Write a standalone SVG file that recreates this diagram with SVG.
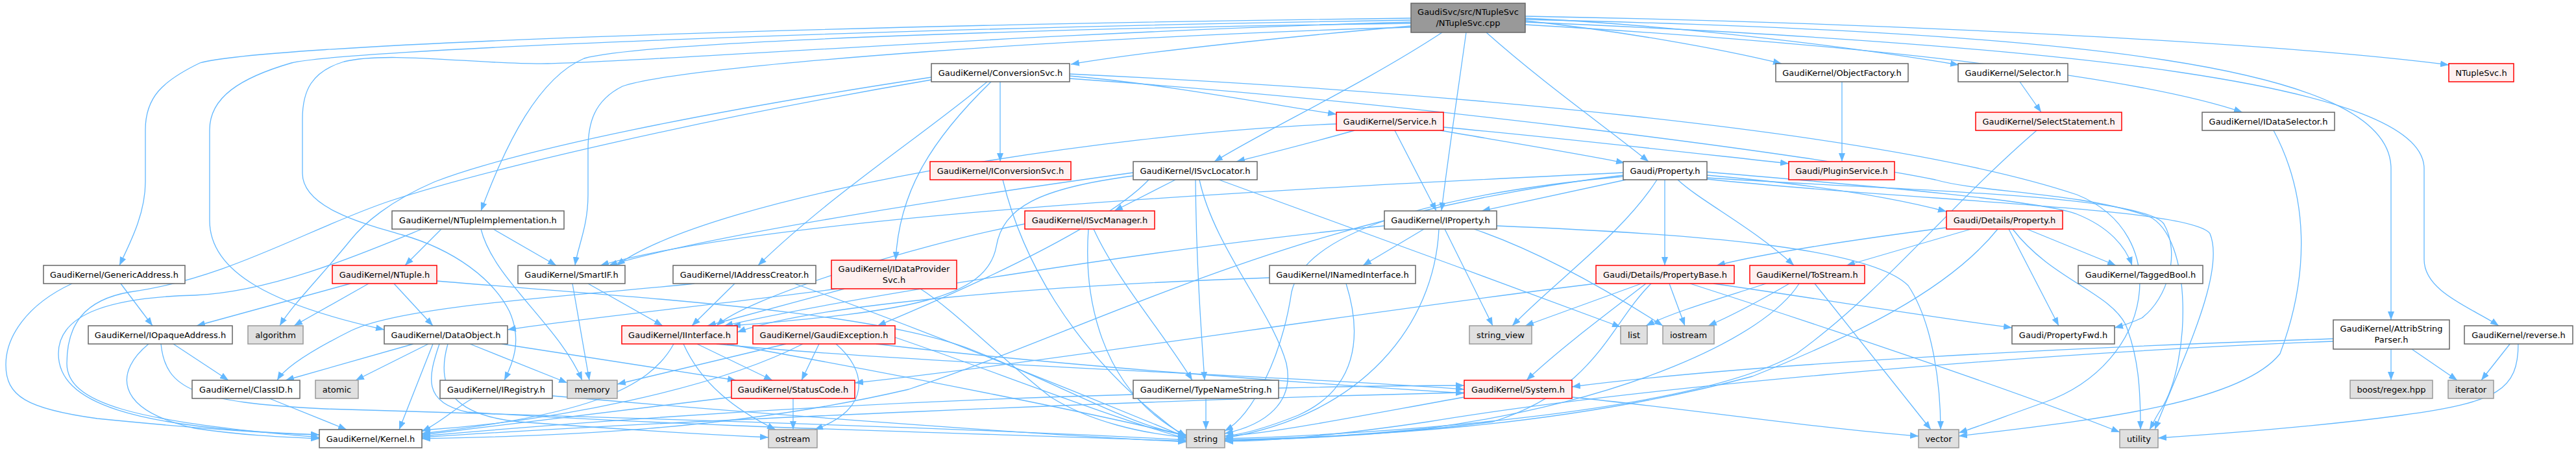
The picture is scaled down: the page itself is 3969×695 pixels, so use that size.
<svg xmlns="http://www.w3.org/2000/svg" width="3969" height="695" viewBox="0 0 3969 695">
<style>
.e{fill:none;stroke:#63b8ff;stroke-width:1.3;marker-end:url(#ah)}
.n rect{fill:#ffffff;stroke:#666666;stroke-width:1.5}
.r rect{fill:#fff0f0;stroke:#ff0000;stroke-width:1.5}
.g rect{fill:#e0e0e0;stroke:#999999;stroke-width:1.5}
.root rect{fill:#999999;stroke:#666666;stroke-width:1.5}
text{font-family:"DejaVu Sans","Liberation Sans",sans-serif;font-size:13px;text-anchor:middle;fill:#000000}
</style>
<defs>
<marker id="ah" markerWidth="13" markerHeight="10" refX="13" refY="5" orient="auto" markerUnits="userSpaceOnUse"><path d="M0,0 L13,5 L0,10 z" fill="#63b8ff"/></marker>
</defs>
<rect x="0" y="0" width="3969" height="695" fill="#ffffff"/>
<g id="edges">
<path class="e" d="M2174,40 C1950,60 1750,82 1650,99"/>
<path class="e" d="M2350,32 C2500,48 2650,75 2745,98"/>
<path class="e" d="M2350,28 C2600,40 2870,75 3018,100"/>
<path class="e" d="M2350,25 C2900,35 3500,65 3773,100"/>
<path class="e" d="M2350,38 C2900,70 3300,120 3455,173"/>
<path class="e" d="M2350,30 C3200,50 3684,100 3684,260 L3684,493"/>
<path class="e" d="M2350,34 C3200,70 3735,130 3735,260 L3735,400 C3735,450 3810,475 3850,502"/>
<path class="e" d="M2174,28 C1200,40 400,70 308,97 C250,125 224,150 224,200 L224,280 C224,330 200,375 184,409"/>
<path class="e" d="M2174,31 C1300,45 520,78 449,97 C370,120 323,150 323,200 L323,340 C323,420 420,470 592,508"/>
<path class="e" d="M2174,34 C1600,50 1000,95 844,98 C740,100 600,78 530,95 C480,110 466,140 466,183 L466,267 C466,320 560,345 620,362 C700,385 760,430 785,480 C805,525 790,560 777,586"/>
<path class="e" d="M2174,36 C1700,42 1000,62 900,90 C830,120 780,220 741,325"/>
<path class="e" d="M2174,42 C1700,55 1050,100 959,133 C915,155 906,190 906,230 L906,300 C906,350 890,380 886,409"/>
<path class="e" d="M2222,50 C2100,130 1950,200 1871,249"/>
<path class="e" d="M2259,50 C2245,150 2230,250 2221,325"/>
<path class="e" d="M2290,50 C2380,130 2480,200 2540,249"/>
<path class="e" d="M1648,117 C1800,130 1950,160 2059,176"/>
<path class="e" d="M1541,126 L1541,249"/>
<path class="e" d="M1521,126 C1420,210 1280,300 1168,409"/>
<path class="e" d="M1527,126 C1430,220 1385,300 1380,401"/>
<path class="e" d="M1435,119 C1100,170 800,230 670,280 C600,310 560,345 540,370 C500,420 450,470 431,502"/>
<path class="e" d="M1435,123 C1100,180 750,260 600,310 C480,350 350,430 200,450 C130,462 103,500 103,560 C103,620 200,650 492,674"/>
<path class="e" d="M1648,114 C2200,140 2900,200 3200,300 C3350,360 3320,560 3150,620 C3080,645 3040,660 3018,667"/>
<path class="e" d="M1648,121 C2200,160 2800,240 2982,277 C3050,297 3200,295 3310,333 C3380,365 3375,560 3330,630 C3320,645 3316,655 3312,662"/>
<path class="e" d="M2087,201 C2020,220 1960,235 1905,249"/>
<path class="e" d="M2149,201 L2213,325"/>
<path class="e" d="M2219,201 C2330,220 2440,238 2503,251"/>
<path class="e" d="M2224,196 C2400,212 2600,235 2756,252"/>
<path class="e" d="M2059,191 C1700,205 1100,300 950,409"/>
<path class="e" d="M2838,126 L2838,249"/>
<path class="e" d="M3112,126 L3145,173"/>
<path class="e" d="M3138,201 C3000,320 2900,450 2768,545 C2600,640 2100,670 1887,676"/>
<path class="e" d="M3503,201 C3556,300 3560,420 3513,545 C3450,625 3200,650 3018,672"/>
<path class="e" d="M1545,277 C1570,380 1640,540 1828,675"/>
<path class="e" d="M1811,277 L1717,325"/>
<path class="e" d="M1842,277 C1843,400 1850,500 1856,586"/>
<path class="e" d="M1848,277 C1870,380 1960,480 1982,560 C1995,620 1950,655 1887,668"/>
<path class="e" d="M1878,277 C2050,340 2300,430 2497,504"/>
<path class="e" d="M1746,271 C1600,290 1545,320 1535,380 C1520,460 1400,480 1128,502"/>
<path class="e" d="M1746,266 C1500,300 1100,360 938,409"/>
<path class="e" d="M1770,277 C1700,350 1500,440 1352,502"/>
<path class="e" d="M2505,277 L2283,325"/>
<path class="e" d="M2565,277 L2565,409"/>
<path class="e" d="M2553,277 C2500,360 2400,430 2330,502"/>
<path class="e" d="M2630,270 C2800,285 2920,305 2999,326"/>
<path class="e" d="M2630,265 C2900,288 3150,310 3200,330 C3250,350 3275,380 3285,409"/>
<path class="e" d="M2630,274 C2950,295 3300,300 3334,345 C3360,390 3340,460 3300,490 C3285,497 3270,502 3258,505"/>
<path class="e" d="M2630,276 C2950,310 3380,320 3405,360 C3430,420 3360,560 3320,662"/>
<path class="e" d="M2585,277 C2620,310 2700,350 2764,409"/>
<path class="e" d="M2501,266 C2000,290 1200,330 925,409"/>
<path class="e" d="M2501,272 C2200,300 2010,360 1990,450 C1975,550 1930,640 1887,664"/>
<path class="e" d="M2501,270 C2000,330 1700,500 1400,600 C1100,670 800,672 650,676"/>
<path class="e" d="M680,353 L624,409"/>
<path class="e" d="M760,353 L857,409"/>
<path class="e" d="M741,353 C760,430 860,500 897,586"/>
<path class="e" d="M650,353 C560,390 420,450 300,455 C180,458 90,480 90,545 C90,620 200,660 492,670"/>
<path class="e" d="M1685,353 C1720,430 1790,510 1837,586"/>
<path class="e" d="M1677,353 C1670,450 1690,600 1828,672"/>
<path class="e" d="M1579,345 C1400,380 1150,460 1104,502"/>
<path class="e" d="M2194,353 L2100,409"/>
<path class="e" d="M2217,353 C2210,500 2100,640 1887,675"/>
<path class="e" d="M2226,353 L2300,502"/>
<path class="e" d="M2271,353 C2350,380 2450,430 2562,502"/>
<path class="e" d="M2306,348 C2600,360 2880,380 2940,440 C2980,500 2990,600 2990,662"/>
<path class="e" d="M2133,348 C1800,380 1300,460 1116,502"/>
<path class="e" d="M3005,350 C2850,370 2720,390 2645,409"/>
<path class="e" d="M3037,353 L2845,409"/>
<path class="e" d="M3078,353 C3000,450 2850,520 2700,580 C2400,660 2100,672 1887,678"/>
<path class="e" d="M3095,353 L3172,502"/>
<path class="e" d="M3101,353 C3160,430 3250,450 3275,500 C3295,550 3298,600 3298,662"/>
<path class="e" d="M3123,353 L3260,409"/>
<path class="e" d="M186,437 L235,502"/>
<path class="e" d="M111,437 C40,470 9,520 9,562 C9,610 40,630 150,645 C300,660 420,668 492,670"/>
<path class="e" d="M229,530 C180,570 170,630 300,660 C380,672 450,674 492,676"/>
<path class="e" d="M267,530 L352,586"/>
<path class="e" d="M248,530 C255,600 300,620 500,630 C1000,645 1500,660 1828,678"/>
<path class="e" d="M540,437 L303,502"/>
<path class="e" d="M568,437 L453,502"/>
<path class="e" d="M607,437 L667,502"/>
<path class="e" d="M673,433 C1000,460 1350,480 1500,540 C1650,600 1750,660 1828,670"/>
<path class="e" d="M637,530 L440,586"/>
<path class="e" d="M660,530 L548,586"/>
<path class="e" d="M724,530 L874,590"/>
<path class="e" d="M773,530 L1134,586"/>
<path class="e" d="M667,530 L615,662"/>
<path class="e" d="M677,530 C660,580 650,620 720,635 C1100,660 1600,670 1828,680"/>
<path class="e" d="M690,530 C670,600 700,640 800,650 C1000,665 1100,670 1184,674"/>
<path class="e" d="M728,614 C700,630 680,650 650,665"/>
<path class="e" d="M851,610 C1200,640 1600,670 1828,681"/>
<path class="e" d="M1074,530 L1190,586"/>
<path class="e" d="M1053,530 C1080,590 1130,630 1195,662"/>
<path class="e" d="M1038,530 C1000,600 900,640 650,668"/>
<path class="e" d="M1104,530 C1400,560 2000,580 2256,600"/>
<path class="e" d="M1120,530 C1400,580 1700,640 1828,672"/>
<path class="e" d="M1262,530 L1235,586"/>
<path class="e" d="M1211,530 L951,592"/>
<path class="e" d="M1237,530 C1100,600 850,650 650,663"/>
<path class="e" d="M1288,530 C1335,570 1345,630 1255,662"/>
<path class="e" d="M1379,520 C1500,560 1700,640 1828,676"/>
<path class="e" d="M1350,530 C1600,560 2000,590 2256,606"/>
<path class="e" d="M1222,614 L1222,662"/>
<path class="e" d="M1127,612 L650,670"/>
<path class="e" d="M415,614 L534,662"/>
<path class="e" d="M1858,614 L1858,662"/>
<path class="e" d="M1746,608 C1300,620 900,650 650,672"/>
<path class="e" d="M1970,598 C2100,595 2200,594 2256,594"/>
<path class="e" d="M2256,605 C1800,615 1000,650 650,674"/>
<path class="e" d="M2256,612 C2100,640 1950,670 1887,672"/>
<path class="e" d="M2422,612 C2600,630 2800,660 2956,672"/>
<path class="e" d="M2529,437 L2350,502"/>
<path class="e" d="M2536,437 C2480,480 2400,540 2352,586"/>
<path class="e" d="M2544,437 C2480,500 2460,600 2300,650 C2100,675 1950,678 1887,678"/>
<path class="e" d="M2572,437 L2596,502"/>
<path class="e" d="M2640,437 C2800,460 2950,485 3100,505"/>
<path class="e" d="M2604,437 C2800,500 3100,600 3266,666"/>
<path class="e" d="M2459,437 C2100,480 1600,560 1317,590"/>
<path class="e" d="M2721,437 C2650,460 2580,480 2536,502"/>
<path class="e" d="M2757,437 C2700,470 2660,490 2632,502"/>
<path class="e" d="M2772,437 C2720,520 2500,620 2200,660 C2050,675 1950,678 1887,679"/>
<path class="e" d="M2796,437 L2975,662"/>
<path class="e" d="M3684,538 L3684,586"/>
<path class="e" d="M3716,538 L3786,586"/>
<path class="e" d="M3595,522 C3200,535 2700,560 2422,596"/>
<path class="e" d="M3595,526 C3100,545 2500,600 2200,650 C2050,672 1950,680 1887,680"/>
<path class="e" d="M3868,529 L3823,586"/>
<path class="e" d="M3880,529 C3880,600 3850,620 3700,640 C3550,660 3400,670 3325,675"/>
<path class="e" d="M1132,437 L1066,502"/>
<path class="e" d="M1070,437 C900,455 620,470 540,510 C480,540 440,565 427,586"/>
<path class="e" d="M1224,437 C1400,500 1650,600 1828,674"/>
<path class="e" d="M1301,445 L1090,502"/>
<path class="e" d="M1290,445 C1100,470 900,490 782,508"/>
<path class="e" d="M1418,445 C1470,478 1534,545 1619,612 C1680,650 1760,668 1828,674"/>
<path class="e" d="M1956,428 C1600,440 1250,470 1136,512"/>
<path class="e" d="M2074,437 C2100,520 2090,600 2000,640 C1950,660 1910,670 1887,672"/>
<path class="e" d="M906,437 L1021,502"/>
<path class="e" d="M882,437 L908,586"/>
</g>
<g id="n_root" class="root"><rect x="2174" y="5" width="176" height="45"/><text x="2262" y="23">GaudiSvc/src/NTupleSvc</text><text x="2262" y="40">/NTupleSvc.cpp</text></g>
<g id="n_ConversionSvc" class="n"><rect x="1435" y="98" width="213" height="28"/><text x="1541.5" y="117">GaudiKernel/ConversionSvc.h</text></g>
<g id="n_ObjectFactory" class="n"><rect x="2736" y="98" width="204" height="28"/><text x="2838" y="117">GaudiKernel/ObjectFactory.h</text></g>
<g id="n_Selector" class="n"><rect x="3017" y="98" width="169" height="28"/><text x="3101.5" y="117">GaudiKernel/Selector.h</text></g>
<g id="n_NTupleSvc_h" class="r"><rect x="3773" y="98" width="100" height="28"/><text x="3823" y="117">NTupleSvc.h</text></g>
<g id="n_Service" class="r"><rect x="2059" y="173" width="165" height="28"/><text x="2141.5" y="192">GaudiKernel/Service.h</text></g>
<g id="n_SelectStatement" class="r"><rect x="3044" y="173" width="225" height="28"/><text x="3156.5" y="192">GaudiKernel/SelectStatement.h</text></g>
<g id="n_IDataSelector" class="n"><rect x="3393" y="173" width="204" height="28"/><text x="3495" y="192">GaudiKernel/IDataSelector.h</text></g>
<g id="n_IConversionSvc" class="r"><rect x="1433" y="249" width="217" height="28"/><text x="1541.5" y="268">GaudiKernel/IConversionSvc.h</text></g>
<g id="n_ISvcLocator" class="n"><rect x="1746" y="249" width="191" height="28"/><text x="1841.5" y="268">GaudiKernel/ISvcLocator.h</text></g>
<g id="n_GaudiProperty" class="n"><rect x="2501" y="249" width="129" height="28"/><text x="2565.5" y="268">Gaudi/Property.h</text></g>
<g id="n_PluginService" class="r"><rect x="2756" y="249" width="163" height="28"/><text x="2837.5" y="268">Gaudi/PluginService.h</text></g>
<g id="n_NTupleImplementation" class="n"><rect x="604" y="325" width="265" height="28"/><text x="736.5" y="344">GaudiKernel/NTupleImplementation.h</text></g>
<g id="n_ISvcManager" class="r"><rect x="1579" y="325" width="200" height="28"/><text x="1679" y="344">GaudiKernel/ISvcManager.h</text></g>
<g id="n_IProperty" class="n"><rect x="2133" y="325" width="173" height="28"/><text x="2219.5" y="344">GaudiKernel/IProperty.h</text></g>
<g id="n_DetailsProperty" class="r"><rect x="2999" y="325" width="179" height="28"/><text x="3088.5" y="344">Gaudi/Details/Property.h</text></g>
<g id="n_GenericAddress" class="n"><rect x="67" y="409" width="218" height="28"/><text x="176" y="428">GaudiKernel/GenericAddress.h</text></g>
<g id="n_NTuple" class="r"><rect x="512" y="409" width="161" height="28"/><text x="592.5" y="428">GaudiKernel/NTuple.h</text></g>
<g id="n_SmartIF" class="n"><rect x="798" y="409" width="165" height="28"/><text x="880.5" y="428">GaudiKernel/SmartIF.h</text></g>
<g id="n_IAddressCreator" class="n"><rect x="1037" y="409" width="220" height="28"/><text x="1147" y="428">GaudiKernel/IAddressCreator.h</text></g>
<g id="n_IDataProviderSvc" class="r"><rect x="1281" y="401" width="193" height="44"/><text x="1377.5" y="419">GaudiKernel/IDataProvider</text><text x="1377.5" y="436">Svc.h</text></g>
<g id="n_INamedInterface" class="n"><rect x="1956" y="409" width="225" height="28"/><text x="2068.5" y="428">GaudiKernel/INamedInterface.h</text></g>
<g id="n_PropertyBase" class="r"><rect x="2459" y="409" width="213" height="28"/><text x="2565.5" y="428">Gaudi/Details/PropertyBase.h</text></g>
<g id="n_ToStream" class="r"><rect x="2696" y="409" width="177" height="28"/><text x="2784.5" y="428">GaudiKernel/ToStream.h</text></g>
<g id="n_TaggedBool" class="n"><rect x="3202" y="409" width="192" height="28"/><text x="3298" y="428">GaudiKernel/TaggedBool.h</text></g>
<g id="n_AttribStringParser" class="n"><rect x="3595" y="493" width="179" height="45"/><text x="3684.5" y="511">GaudiKernel/AttribString</text><text x="3684.5" y="528">Parser.h</text></g>
<g id="n_reverse" class="n"><rect x="3797" y="502" width="167" height="28"/><text x="3880.5" y="521">GaudiKernel/reverse.h</text></g>
<g id="n_IOpaqueAddress" class="n"><rect x="136" y="502" width="222" height="28"/><text x="247" y="521">GaudiKernel/IOpaqueAddress.h</text></g>
<g id="n_algorithm" class="g"><rect x="382" y="502" width="85" height="28"/><text x="424.5" y="521">algorithm</text></g>
<g id="n_DataObject" class="n"><rect x="592" y="502" width="190" height="28"/><text x="687" y="521">GaudiKernel/DataObject.h</text></g>
<g id="n_IInterface" class="r"><rect x="958" y="502" width="178" height="28"/><text x="1047" y="521">GaudiKernel/IInterface.h</text></g>
<g id="n_GaudiException" class="r"><rect x="1160" y="502" width="219" height="28"/><text x="1269.5" y="521">GaudiKernel/GaudiException.h</text></g>
<g id="n_string_view" class="g"><rect x="2264" y="502" width="96" height="28"/><text x="2312" y="521">string_view</text></g>
<g id="n_list" class="g"><rect x="2497" y="502" width="41" height="28"/><text x="2517.5" y="521">list</text></g>
<g id="n_iostream" class="g"><rect x="2562" y="502" width="79" height="28"/><text x="2601.5" y="521">iostream</text></g>
<g id="n_PropertyFwd" class="n"><rect x="3100" y="502" width="158" height="28"/><text x="3179" y="521">Gaudi/PropertyFwd.h</text></g>
<g id="n_ClassID" class="n"><rect x="296" y="586" width="166" height="28"/><text x="379" y="605">GaudiKernel/ClassID.h</text></g>
<g id="n_atomic" class="g"><rect x="486" y="586" width="66" height="28"/><text x="519" y="605">atomic</text></g>
<g id="n_IRegistry" class="n"><rect x="678" y="586" width="173" height="28"/><text x="764.5" y="605">GaudiKernel/IRegistry.h</text></g>
<g id="n_memory" class="g"><rect x="874" y="586" width="77" height="28"/><text x="912.5" y="605">memory</text></g>
<g id="n_StatusCode" class="r"><rect x="1127" y="586" width="190" height="28"/><text x="1222" y="605">GaudiKernel/StatusCode.h</text></g>
<g id="n_TypeNameString" class="n"><rect x="1746" y="586" width="224" height="28"/><text x="1858" y="605">GaudiKernel/TypeNameString.h</text></g>
<g id="n_System" class="r"><rect x="2256" y="586" width="166" height="28"/><text x="2339" y="605">GaudiKernel/System.h</text></g>
<g id="n_boost_regex" class="g"><rect x="3621" y="586" width="127" height="28"/><text x="3684.5" y="605">boost/regex.hpp</text></g>
<g id="n_iterator" class="g"><rect x="3772" y="586" width="70" height="28"/><text x="3807" y="605">iterator</text></g>
<g id="n_Kernel" class="n"><rect x="492" y="662" width="158" height="28"/><text x="571" y="681">GaudiKernel/Kernel.h</text></g>
<g id="n_ostream" class="g"><rect x="1184" y="662" width="75" height="28"/><text x="1221.5" y="681">ostream</text></g>
<g id="n_string" class="g"><rect x="1828" y="662" width="59" height="28"/><text x="1857.5" y="681">string</text></g>
<g id="n_vector" class="g"><rect x="2956" y="662" width="62" height="28"/><text x="2987" y="681">vector</text></g>
<g id="n_utility" class="g"><rect x="3266" y="662" width="59" height="28"/><text x="3295.5" y="681">utility</text></g>
</svg>
